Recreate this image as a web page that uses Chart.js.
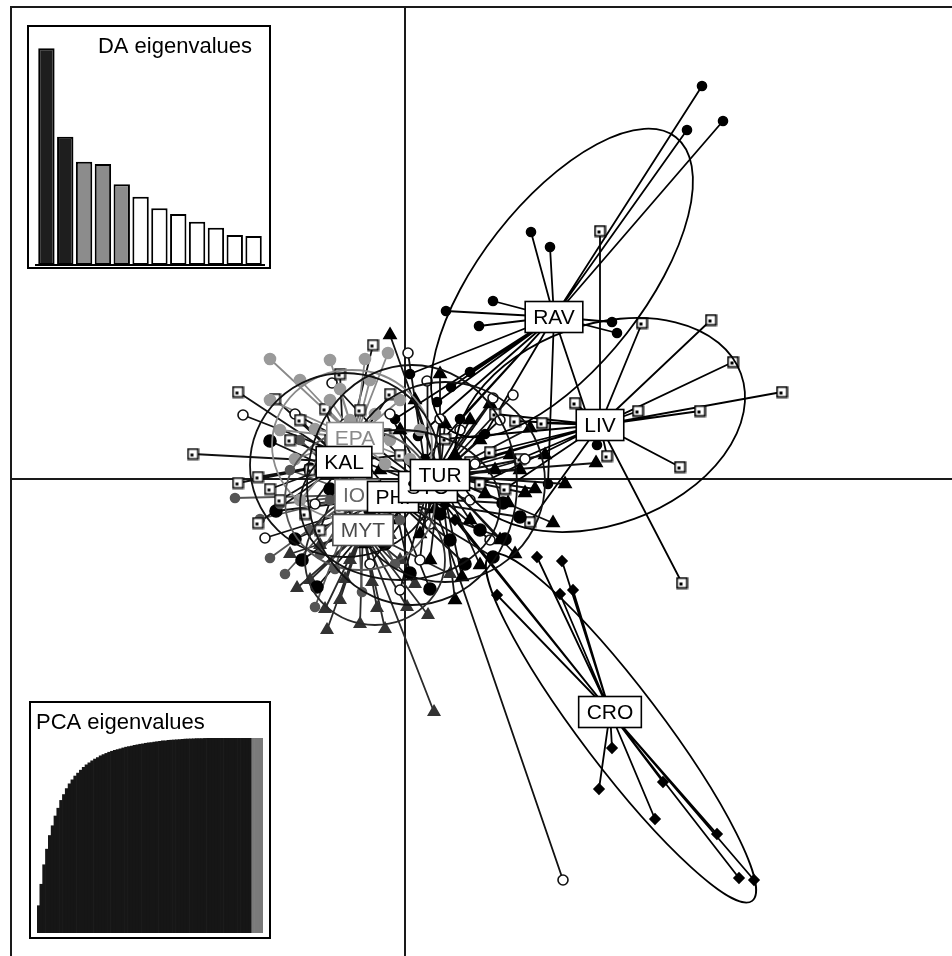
<!DOCTYPE html>
<html><head><meta charset="utf-8">
<script src="https://cdn.jsdelivr.net/npm/chart.js@4.4.0/dist/chart.umd.min.js"></script>
<style>
html,body{margin:0;padding:0;background:#fff;}
#wrap{position:relative;width:952px;height:956px;overflow:hidden;background:#fff;}
#main{position:absolute;left:0;top:0;}
.inset{position:absolute;border:2px solid #000;background:#fff;box-sizing:border-box;}
.inset canvas{position:absolute;left:0;top:0;}
</style></head><body>
<div id="wrap">
<canvas id="main" width="952" height="956"></canvas>
<div class="inset" style="left:27px;top:25px;width:244px;height:244px;"><canvas id="da" width="240" height="240"></canvas></div>
<div class="inset" style="left:29px;top:701px;width:242px;height:238px;"><canvas id="pca" width="238" height="234"></canvas></div>
</div>
<script>
// ---------------- DATA ----------------
const groupNames = ['EPA','KAL','IOI','PHI','STO','TUR','MYT','RAV','LIV','CRO'];
const centroidX = [-5.0, -6.1, -4.8, -1.2, 2.3, 3.5, -4.2, 14.9, 19.5, 20.5];
const centroidY = [ 4.1,  1.7, -1.6, -1.8, -0.8, 0.4, -5.1, 16.2, 5.4, -23.3];

const ptsEPA = [[-13.5,12.0],[-1.7,12.6],[-10.5,9.9],[-7.5,7.9],[-12.5,4.9],[-8.5,1.4],[-3.5,9.9],[-0.5,7.9],[-5.5,5.9],[1.5,4.9],[-10.5,-2.1],[-4.5,-0.1],[-1.5,3.9],[-7.5,11.9],[-13.5,7.9],[-9.0,5.0],[-3.0,6.5],[-6.5,9.0],[-2.0,1.5],[-11.0,2.0],[-6.0,-2.5],[0.5,2.0],[-4.0,12.0]];
const ptsKAL = [[-21.2,2.5],[-16.7,8.7],[-16.7,-0.4],[-14.7,0.2],[-14.7,-4.4],[-3.2,13.4],[-10.5,5.9],[-12.5,-2.1],[-8.5,-5.1],[-4.5,6.9],[-7.5,3.9],[-2.5,-2.1],[-9.5,0.9],[-5.5,-1.1],[-11.5,3.9],[-0.5,2.4],[-13.0,8.0],[-6.5,10.5],[-1.5,8.5],[-10.0,-3.5],[-6.5,-3.0],[-13.5,-1.0],[-2.0,4.5],[-8.0,7.0]];
const ptsIOI = [[-17.0,-1.9],[-13.5,-7.9],[-4.3,-11.3],[-9.0,-12.8],[-11.5,0.9],[-7.5,-2.1],[-2.5,-6.1],[-9.5,-5.1],[-5.5,0.9],[-0.5,-4.1],[-10.5,3.9],[1.5,-2.1],[-14.5,-4.0],[-12.0,-9.5],[-7.0,-9.0],[-3.0,-1.0],[-8.5,-7.5],[-1.0,-8.5],[-6.0,-5.5],[-12.5,-2.5]];
const ptsPHI = [[-13.5,3.8],[-12.9,-3.2],[-10.3,-8.1],[-8.8,-10.8],[11.5,-3.8],[8.8,-7.8],[9.8,-2.4],[0.5,-9.4],[-6.5,-4.1],[4.5,-6.1],[1.5,0.9],[-3.5,-3.1],[7.5,-5.1],[-4.5,2.4],[-11.0,-6.0],[-7.5,-1.0],[3.5,-3.5],[6.0,-8.5],[-2.0,-6.5],[2.5,-11.0],[-9.5,1.0],[10.0,-6.0]];
const ptsSTO = [[2.2,9.8],[8.8,8.1],[10.8,8.4],[0.3,12.6],[15.8,-40.1],[-7.3,9.6],[-14.0,-5.9],[4.5,0.9],[6.5,-2.1],[-2.5,-4.1],[1.5,-8.1],[5.5,4.9],[9.5,5.9],[-4.5,2.9],[-0.5,-11.1],[8.5,-6.1],[-16.2,6.4],[-6.0,5.5],[-1.5,6.5],[3.5,6.0],[-9.0,-2.5],[7.0,1.5],[12.0,2.0],[-3.5,-8.5],[2.5,-4.5],[-11.0,6.5]];
const ptsTUR = [[19.1,1.6],[14.8,-4.4],[12.0,-1.4],[12.5,5.1],[5.7,-9.8],[10.3,-2.4],[9.0,0.9],[7.5,3.9],[6.5,-4.1],[5.0,2.4],[9.5,-6.1],[11.5,0.9],[7.5,-8.6],[5.0,-12.1],[2.5,-8.1],[-0.5,4.9],[1.0,7.9],[6.5,5.9],[14.0,2.4],[10.5,2.4],[-2.5,0.9],[-1.5,-4.1],[-1.5,14.4],[3.0,-3.0],[8.0,-1.5],[13.0,-1.0],[16.0,-0.5],[4.0,5.5],[-4.0,-6.5],[1.5,-5.5],[8.5,7.5],[3.5,10.5],[11.0,-7.5]];
const ptsMYT = [[-10.8,-10.9],[-7.8,-15.1],[-2.8,-12.9],[0.2,-12.8],[-3.3,-10.3],[2.9,-23.3],[2.3,-13.6],[-5.5,-8.1],[-8.5,-6.6],[-0.5,-8.1],[-6.5,-12.1],[-1.5,-5.6],[-9.5,-10.1],[-4.5,-14.5],[-11.5,-7.5],[1.0,-10.5],[-6.0,-10.0],[4.5,-9.5],[-8.0,-13.0],[-2.0,-15.0]];
const ptsRAV = [[29.7,39.3],[28.2,34.9],[31.8,35.8],[12.6,24.7],[14.5,23.2],[8.8,17.8],[4.1,16.8],[7.4,15.3],[20.7,15.7],[21.2,14.6],[14.3,-0.5],[19.2,3.4],[4.6,9.2],[3.2,7.7],[6.5,10.7],[1.3,4.3],[-1.0,6.0],[2.0,2.0],[5.5,6.0],[0.5,10.5],[8.0,4.5]];
const ptsLIV = [[19.5,24.8],[23.7,15.6],[30.6,15.9],[32.8,11.7],[37.7,8.7],[17.0,7.6],[23.3,6.8],[29.5,6.8],[11.0,5.8],[13.7,5.6],[27.5,1.2],[27.7,-10.4],[20.2,2.3],[12.5,-4.3],[8.5,2.7],[6.5,1.7],[4.0,4.0],[10.0,-1.0],[7.5,-0.5],[3.0,0.5],[11.5,2.0],[9.0,6.5]];
const ptsCRO = [[15.7,-8.2],[15.5,-11.5],[16.8,-11.1],[20.7,-26.9],[19.4,-31.0],[25.0,-34.0],[25.8,-30.3],[31.2,-35.5],[33.4,-39.9],[34.9,-40.1],[13.2,-7.8],[9.2,-11.6],[5.0,-4.1],[4.0,-2.6]];
const groupPoints = [ptsEPA, ptsKAL, ptsIOI, ptsPHI, ptsSTO, ptsTUR, ptsMYT, ptsRAV, ptsLIV, ptsCRO];

// inertia ellipses (centre, semi-axes, angle in degrees)
const ellipseCX = [-5.3, -6.0, -4.5, -0.5, 0.7, 4.0, -3.0, 15.7, 19.5, 21.6];
const ellipseCY = [ 3.4,  1.4, -2.1, -2.6, -0.6, -0.3, -8.1, 19.6, 5.4, -24.9];
const ellipseA  = [ 8.0,  9.5,  7.5, 10.0, 10.5, 10.0, 7.0, 18.5, 15.0, 21.7];
const ellipseB  = [ 7.5,  9.2,  7.0,  7.5, 12.0, 10.0, 6.5,  8.2, 10.0,  4.0];
const ellipseAngle = [0, 0, 0, 0, 0, 0, 0, 52, 20, -52.8];

// inset eigenvalues
const daEigen = [6.50, 3.85, 3.10, 3.03, 2.42, 2.05, 1.70, 1.53, 1.30, 1.12, 0.90, 0.87];
const daRetained = 2, daShown = 5;
const pcaCumVar = [14,25,35,43,50,55,60,64,68,71,74,76.5,78.5,80.5,82,83.5,85,86.2,87.3,88.3,89.2,90,90.8,91.5,92.1,92.7,93.2,93.7,94.1,94.5,94.9,95.3,95.6,95.9,96.2,96.5,96.8,97,97.3,97.5,97.7,97.9,98.1,98.3,98.5,98.6,98.8,98.9,99,99.1,99.2,99.3,99.4,99.5,99.55,99.6,99.65,99.7,99.75,99.8,99.82,99.85,99.87,99.9,99.92,99.94,99.95,99.96,99.97,99.98,99.99,100,100,100,100,100,100,100,100,100];
const pcaRetained = 76;

// ---------------- STYLES ----------------
function squareImg(col){
  const c=document.createElement('canvas'); c.width=13; c.height=13;
  const g=c.getContext('2d');
  g.fillStyle='#fff'; g.fillRect(1.5,1.5,10,10);
  g.strokeStyle=col; g.lineWidth=1.8; g.strokeRect(1.5,1.5,10,10);
  g.fillStyle=col; g.fillRect(4,6,3,3);
  return c;
}
const groupStyle = {
  EPA:{ps:'circle', r:5.5, bg:'#9a9a9a', bc:'#9a9a9a', line:'#8a8a8a', text:'#8a8a8a'},
  KAL:{ps:squareImg('#111'), r:6, bg:'#fff', bc:'#111', line:'#111', text:'#000'},
  IOI:{ps:'circle', r:4.5, bg:'#555', bc:'#555', line:'#555', text:'#6a6a6a'},
  PHI:{ps:'circle', r:6, bg:'#000', bc:'#000', line:'#111', text:'#000'},
  STO:{ps:'circle', r:5, bg:'#fff', bc:'#111', line:'#111', text:'#000'},
  TUR:{ps:'triangle', r:7, bg:'#000', bc:'#000', line:'#111', text:'#000'},
  MYT:{ps:'triangle', r:6.5, bg:'#333', bc:'#333', line:'#2a2a2a', text:'#4a4a4a'},
  RAV:{ps:'circle', r:4.5, bg:'#000', bc:'#000', line:'#000', text:'#000'},
  LIV:{ps:squareImg('#000'), r:6, bg:'#fff', bc:'#000', line:'#000', text:'#000'},
  CRO:{ps:'rectRot', r:5, bg:'#000', bc:'#000', line:'#000', text:'#000'}
};

// ---------------- MAIN CHART ----------------
const datasets = [];
groupNames.forEach((g,i)=>{
  const st = groupStyle[g];
  const star = [];
  groupPoints[i].forEach(p=>{ star.push({x:centroidX[i],y:centroidY[i]}); star.push({x:p[0],y:p[1]}); });
  datasets.push({label:g+' links', data:star, showLine:true, pointRadius:0, borderColor:st.line, borderWidth:1.8, tension:0, order:2});
  datasets.push({label:g, data:groupPoints[i].map(p=>({x:p[0],y:p[1]})), showLine:false, pointStyle:st.ps, pointRadius:st.r, backgroundColor:st.bg, borderColor:st.bc, borderWidth:1.6, order:1});
});

const framePlugin = {
  id:'frame',
  beforeDatasetsDraw(chart){
    const {ctx, chartArea:a, scales:{x,y}} = chart;
    ctx.save();
    ctx.strokeStyle='#1a1a1a'; ctx.lineWidth=2;
    const x0 = x.getPixelForValue(0), y0 = y.getPixelForValue(0);
    ctx.beginPath(); ctx.moveTo(x0,a.top); ctx.lineTo(x0,a.bottom);
    ctx.moveTo(a.left,y0); ctx.lineTo(a.right,y0); ctx.stroke();
    ctx.beginPath(); ctx.moveTo(a.left,a.bottom); ctx.lineTo(a.left,a.top); ctx.lineTo(a.right,a.top); ctx.stroke();
    ctx.restore();
  },
  afterDatasetsDraw(chart){
    const {ctx, scales:{x,y}} = chart;
    ctx.save();
    groupNames.forEach((g,i)=>{
      const px=x.getPixelForValue(ellipseCX[i]), py=y.getPixelForValue(ellipseCY[i]);
      const ra=Math.abs(x.getPixelForValue(ellipseCX[i]+ellipseA[i])-px);
      const rb=Math.abs(y.getPixelForValue(ellipseCY[i]+ellipseB[i])-py);
      ctx.strokeStyle = groupStyle[g].line; ctx.lineWidth=1.8;
      ctx.beginPath(); ctx.ellipse(px,py,ra,rb,-ellipseAngle[i]*Math.PI/180,0,2*Math.PI); ctx.stroke();
    });
    ctx.font='21px "Liberation Sans", Arial, sans-serif';
    ctx.textAlign='center'; ctx.textBaseline='middle';
    groupNames.forEach((g,i)=>{
      const px=x.getPixelForValue(centroidX[i]), py=y.getPixelForValue(centroidY[i]);
      const w=ctx.measureText(g).width+16, h=31;
      ctx.fillStyle='#fff'; ctx.fillRect(px-w/2,py-h/2,w,h);
      ctx.strokeStyle=groupStyle[g].text; ctx.lineWidth=1.6; ctx.strokeRect(px-w/2,py-h/2,w,h);
      ctx.fillStyle=groupStyle[g].text; ctx.fillText(g,px,py+1);
    });
    ctx.restore();
  }
};

new Chart(document.getElementById('main'),{
  type:'scatter',
  data:{datasets},
  options:{
    responsive:false, animation:false, devicePixelRatio:1,
    layout:{autoPadding:false, padding:{left:11,top:7,right:0,bottom:0}},
    plugins:{legend:{display:false}, tooltip:{enabled:false}},
    scales:{
      x:{type:'linear', min:-39.4, max:54.7, display:false},
      y:{type:'linear', min:-47.7, max:47.2, display:false}
    }
  },
  plugins:[framePlugin]
});

// ---------------- DA INSET ----------------
const daColors = daEigen.map((v,i)=> i<daRetained ? '#1e1e1e' : (i<daShown ? '#8c8c8c' : '#ffffff'));
new Chart(document.getElementById('da'),{
  type:'bar',
  data:{labels:daEigen.map((v,i)=>String(i+1)), datasets:[{data:daEigen, backgroundColor:daColors, borderColor:'#000', borderWidth:2, borderSkipped:false, barPercentage:0.87, categoryPercentage:1}]},
  options:{
    responsive:false, animation:false, devicePixelRatio:1,
    layout:{autoPadding:false, padding:{left:8,right:6,top:0,bottom:2}},
    plugins:{legend:{display:false}, tooltip:{enabled:false}},
    scales:{x:{display:false}, y:{display:false, min:0, max:7.14}}
  },
  plugins:[{id:'daTitle', afterDraw(c){const ctx=c.ctx; ctx.save(); ctx.font='22px "Liberation Sans", Arial, sans-serif'; ctx.fillStyle='#000'; ctx.textAlign='right'; ctx.textBaseline='alphabetic'; ctx.fillText('DA eigenvalues',223,26); ctx.strokeStyle='#000'; ctx.lineWidth=2; ctx.beginPath(); ctx.moveTo(c.chartArea.left-2,c.chartArea.bottom); ctx.lineTo(c.chartArea.right+2,c.chartArea.bottom); ctx.stroke(); ctx.restore();}}]
});

// ---------------- PCA INSET ----------------
const pcaColors = pcaCumVar.map((v,i)=> i<pcaRetained ? '#161616' : '#7a7a7a');
new Chart(document.getElementById('pca'),{
  type:'bar',
  data:{labels:pcaCumVar.map((v,i)=>String(i+1)), datasets:[{data:pcaCumVar, backgroundColor:pcaColors, borderWidth:0, barPercentage:1, categoryPercentage:1}]},
  options:{
    responsive:false, animation:false, devicePixelRatio:1,
    layout:{autoPadding:false, padding:{left:6,right:6,top:35,bottom:4}},
    plugins:{legend:{display:false}, tooltip:{enabled:false}},
    scales:{x:{display:false}, y:{display:false, min:0, max:100}}
  },
  plugins:[{id:'pcaTitle', afterDraw(c){const ctx=c.ctx; ctx.save(); ctx.font='22px "Liberation Sans", Arial, sans-serif'; ctx.fillStyle='#000'; ctx.textAlign='left'; ctx.textBaseline='alphabetic'; ctx.fillText('PCA eigenvalues',5,26); ctx.restore();}}]
});
</script>
</body></html>
